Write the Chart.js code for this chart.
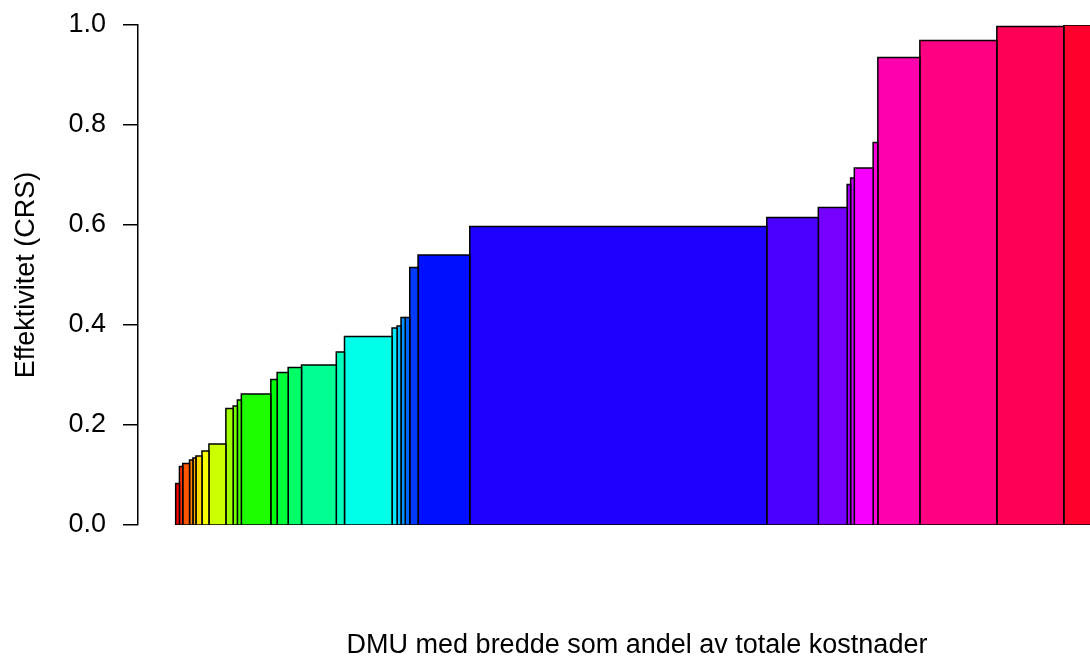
<!DOCTYPE html>
<html lang="no">
<head>
    <meta charset="UTF-8" />
    <title>Effektivitet (CRS) og andel av totale kostnader</title>
    <script src="https://cdn.jsdelivr.net/npm/chart.js"></script>
    <style>
        body { margin: 0; background: #fff; }
        canvas { display: block; }
    </style>
</head>
<body>
    <canvas id="salterChart" width="1090" height="657"></canvas>

    <script>
        // DMU-ene sortert etter effektivitet; bredden er andel av totale kostnader (%)
        const costShare = [
            0.40, 0.35, 0.72, 0.36, 0.32, 0.64, 0.74, 1.80, 0.77, 0.45,
            0.42, 3.13, 0.67, 1.17, 1.42, 3.69, 0.87, 5.05, 0.53, 0.42,
            0.45, 0.48, 0.88, 5.49, 31.53, 5.47, 3.06, 0.37, 0.39, 2.00,
            0.50, 4.46, 8.17, 7.11, 5.73
        ];
        const efficiency = [
            0.083, 0.117, 0.123, 0.130, 0.134, 0.138, 0.148, 0.162, 0.233, 0.238,
            0.250, 0.262, 0.291, 0.305, 0.315, 0.320, 0.346, 0.377, 0.394, 0.398,
            0.415, 0.415, 0.515, 0.540, 0.597, 0.615, 0.635, 0.681, 0.694, 0.714,
            0.765, 0.935, 0.969, 0.997, 1.000
        ];
        const yTickValues = [0, 0.2, 0.4, 0.6, 0.8, 1.0];

        const yTitle = "Effektivitet (CRS)";
        const xTitle = "DMU med bredde som andel av totale kostnader";

        const fontFamily = "'Liberation Sans', Arial, Helvetica, sans-serif";
        const fontSize = 27;
        const n = efficiency.length;

        // hver stolpe er et lukket rektangel fra venstre kant til høyre kant
        let left = 0;
        const datasets = efficiency.map((eff, i) => {
            const x0 = left;
            const x1 = left + costShare[i];
            left = x1;
            return {
                label: "DMU " + (i + 1),
                data: [
                    { x: x0, y: 0 },
                    { x: x0, y: eff },
                    { x: x1, y: eff },
                    { x: x1, y: 0 },
                    { x: x0, y: 0 }
                ],
                showLine: true,
                fill: "shape",
                backgroundColor: `hsl(${(i * 360) / n}, 100%, 50%)`,
                borderColor: "#000",
                borderWidth: 1.5,
                borderJoinStyle: "miter",
                pointRadius: 0,
                tension: 0
            };
        });

        // aksetittel under figuren, tegnet som tekst på lerretet
        const xTitlePlugin = {
            id: "xTitle",
            afterDraw(chart) {
                const ctx = chart.ctx;
                ctx.save();
                ctx.font = `${fontSize}px ${fontFamily}`;
                ctx.fillStyle = "#000";
                ctx.textAlign = "center";
                ctx.textBaseline = "alphabetic";
                ctx.fillText(xTitle, 637, 653);
                ctx.restore();
            }
        };

        new Chart(document.getElementById("salterChart"), {
            type: "scatter",
            data: { datasets },
            options: {
                responsive: false,
                animation: false,
                events: [],
                layout: { padding: { top: 25, bottom: 132, left: 0, right: 0 } },
                plugins: {
                    legend: { display: false },
                    tooltip: { enabled: false }
                },
                scales: {
                    x: {
                        type: "linear",
                        min: -4,
                        max: 97.06,
                        display: false
                    },
                    y: {
                        type: "linear",
                        min: 0,
                        max: 1,
                        afterBuildTicks: (scale) => {
                            scale.ticks = yTickValues.map(v => ({ value: v }));
                        },
                        afterFit: (scale) => {
                            scale.width = 138;
                            scale.paddingTop = 0;
                            scale.paddingBottom = 0;
                        },
                        ticks: {
                            callback: (v) => Number(v).toFixed(1),
                            color: "#000",
                            padding: 17,
                            font: { family: fontFamily, size: fontSize }
                        },
                        grid: {
                            drawOnChartArea: false,
                            drawTicks: true,
                            tickLength: 15,
                            color: "#000",
                            lineWidth: 1.5
                        },
                        border: { display: true, color: "#000", width: 1.5 },
                        title: {
                            display: true,
                            text: yTitle,
                            color: "#000",
                            padding: { top: 10, bottom: 0 },
                            font: { family: fontFamily, size: fontSize }
                        }
                    }
                }
            },
            plugins: [xTitlePlugin]
        });
    </script>
</body>
</html>
